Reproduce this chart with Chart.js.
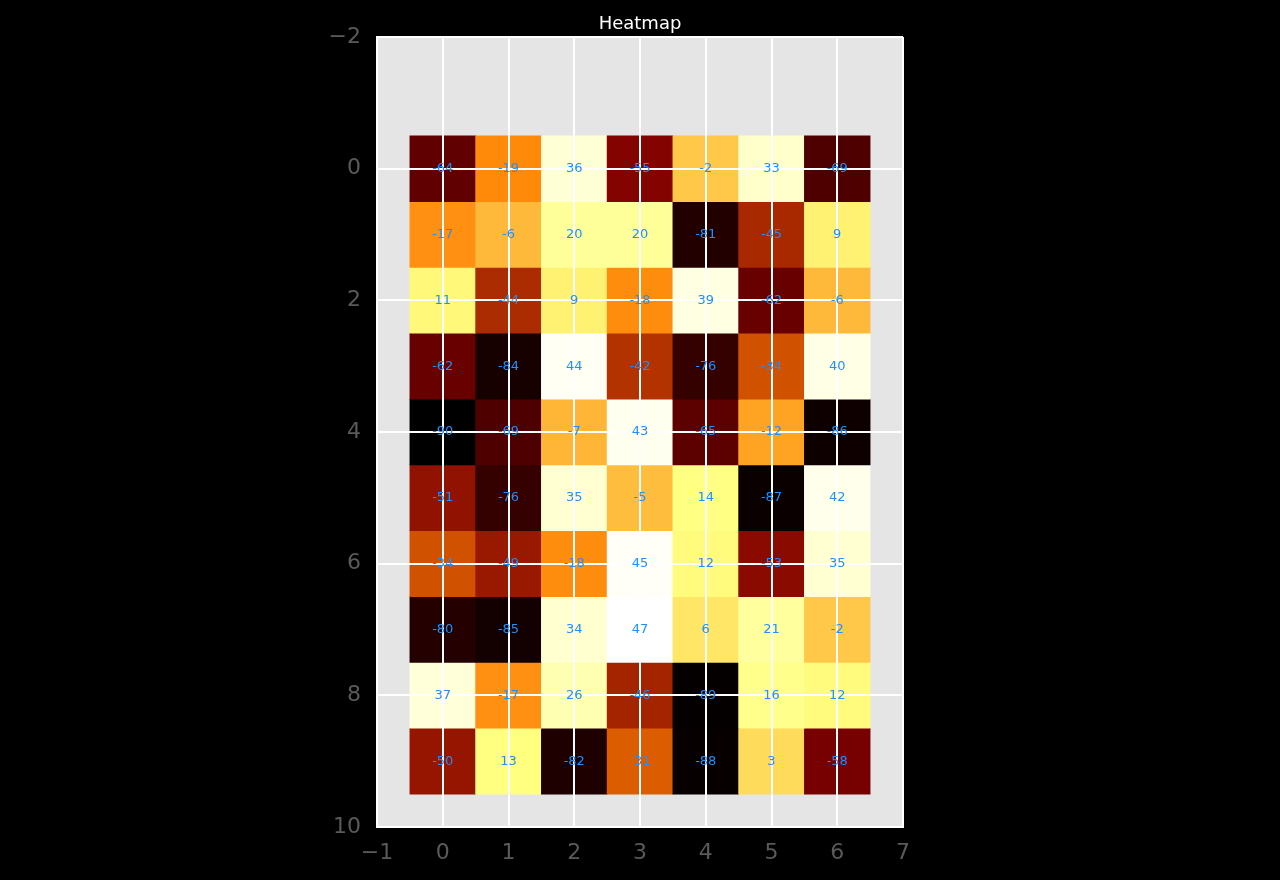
<!DOCTYPE html>
<html>
<head>
<meta charset="utf-8">
<title>Heatmap</title>
<script src="https://cdn.jsdelivr.net/npm/chart.js@4.4.1/dist/chart.umd.min.js"></script>
<style>
  html, body { margin: 0; padding: 0; background: #000; }
  canvas { display: block; }
</style>
</head>
<body>
<canvas id="heat" width="1280" height="880"></canvas>
<script>
// ================== DATA ==================
const columns = [0, 1, 2, 3, 4, 5, 6];
const rows    = [0, 1, 2, 3, 4, 5, 6, 7, 8, 9];

const row0 = [-64, -19,  36, -55,  -2,  33, -69];
const row1 = [-17,  -6,  20,  20, -81, -45,   9];
const row2 = [ 11, -44,   9, -18,  39, -62,  -6];
const row3 = [-62, -84,  44, -42, -76, -34,  40];
const row4 = [-90, -69,  -7,  43, -65, -12, -86];
const row5 = [-51, -76,  35,  -5,  14, -87,  42];
const row6 = [-34, -49, -18,  45,  12, -53,  35];
const row7 = [-80, -85,  34,  47,   6,  21,  -2];
const row8 = [ 37, -17,  26, -46, -89,  16,  12];
const row9 = [-50,  13, -82, -31, -88,   3, -58];
const values = [row0, row1, row2, row3, row4, row5, row6, row7, row8, row9];

const xTicks = [-1, 0, 1, 2, 3, 4, 5, 6, 7];
const yTicks = [-2, 0, 2, 4, 6, 8, 10];

// ================== COLOURS (afmhot) ==================
const flat = values.flat();
const vmin = Math.min(...flat);
const vmax = Math.max(...flat);

function clip(v) { return Math.max(0, Math.min(1, v)); }

function afmhot(v) {
    let t = (v - vmin) / (vmax - vmin);
    let r = Math.round(clip(2 * t) * 255);
    let g = Math.round(clip(2 * t - 0.5) * 255);
    let b = Math.round(clip(2 * t - 1) * 255);
    return `rgb(${r},${g},${b})`;
}

function minusSign(v) { return String(v).replace('-', '\u2212'); }

// one floating-bar dataset per row, each bar spans one cell
const datasets = rows.map(r => ({
    label: 'row ' + r,
    data: columns.map(c => ({ x: c, y: [r - 0.5, r + 0.5], v: values[r][c] })),
    backgroundColor: columns.map(c => afmhot(values[r][c])),
    borderWidth: 0,
    barPercentage: 1,
    categoryPercentage: 1,
    grouped: false
}));

// ================== PLUGINS ==================
const plotBg = {
    id: 'plotBg',
    beforeDraw(chart) {
        const a = chart.chartArea, ctx = chart.ctx;
        ctx.save();
        ctx.fillStyle = '#e5e5e5';
        ctx.fillRect(a.left, a.top, a.right - a.left, a.bottom - a.top);
        ctx.restore();
    }
};

// cell values, drawn last so they sit above the white grid
const cellLabels = {
    id: 'cellLabels',
    afterDraw(chart) {
        const ctx = chart.ctx;
        ctx.save();
        ctx.font = '13px "DejaVu Sans"';
        ctx.fillStyle = '#1e90ff';
        ctx.textAlign = 'center';
        ctx.textBaseline = 'middle';
        chart.data.datasets.forEach((ds, i) => {
            chart.getDatasetMeta(i).data.forEach((bar, j) => {
                const p = bar.getProps(['x', 'y', 'base'], true);
                ctx.fillText(ds.data[j].v, p.x, (p.y + p.base) / 2);
            });
        });
        ctx.restore();
    }
};

// ================== CHART ==================
const tickColor = '#5a5a5a';

new Chart(document.getElementById('heat'), {
    type: 'bar',
    data: { datasets: datasets },
    options: {
        responsive: false,
        animation: false,
        layout: { padding: 0 },
        plugins: {
            legend: { display: false },
            tooltip: { enabled: false },
            title: {
                display: true,
                text: 'Heatmap',
                color: '#ffffff',
                font: { family: 'DejaVu Sans', size: 18, weight: 'normal', lineHeight: 1.0 },
                padding: { top: 15, bottom: 4 }
            }
        },
        scales: {
            x: {
                type: 'linear',
                min: -1, max: 7,
                offset: false,
                afterBuildTicks: s => { s.ticks = xTicks.map(v => ({ value: v })); },
                afterFit: s => { s.height = 53; },
                grid: { color: '#ffffff', lineWidth: 2, drawTicks: false, offset: false, z: 1 },
                border: { color: '#ffffff', width: 2, z: 1 },
                ticks: {
                    color: tickColor,
                    padding: 13,
                    maxRotation: 0,
                    font: { family: 'DejaVu Sans', size: 22 },
                    callback: v => minusSign(v)
                }
            },
            y: {
                type: 'linear',
                min: -2, max: 10,
                reverse: true,
                afterBuildTicks: s => { s.ticks = yTicks.map(v => ({ value: v })); },
                afterFit: s => { s.width = 377; },
                grid: { color: '#ffffff', lineWidth: 2, drawTicks: false, z: 1 },
                border: { color: '#ffffff', width: 2, z: 1 },
                ticks: {
                    color: tickColor,
                    padding: 16,
                    font: { family: 'DejaVu Sans', size: 22 },
                    callback: v => minusSign(v)
                }
            },
            // empty right-hand axis, only reserves the margin so the plot sits in the middle
            yRight: {
                type: 'linear',
                position: 'right',
                min: -2, max: 10,
                afterFit: s => { s.width = 377; },
                grid: { display: false },
                border: { display: false },
                ticks: { display: false }
            }
        }
    },
    plugins: [plotBg, cellLabels]
});
</script>
</body>
</html>
